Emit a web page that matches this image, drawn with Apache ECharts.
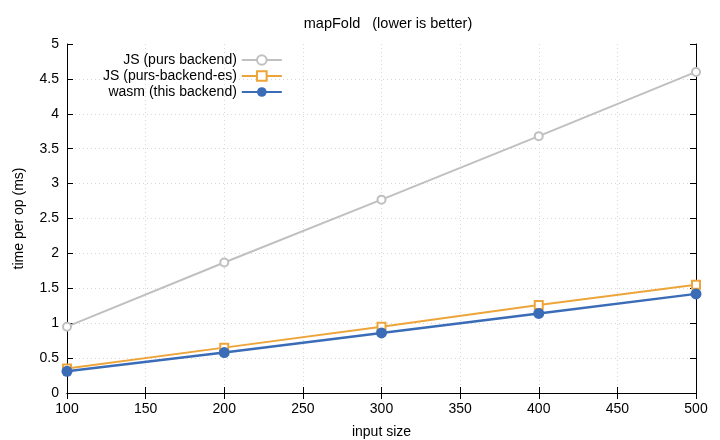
<!DOCTYPE html>
<html>
<head>
<meta charset="utf-8">
<script src="https://cdn.jsdelivr.net/npm/echarts@6/dist/echarts.min.js"></script>
<style>
  html, body { margin: 0; padding: 0; background: #fff; }
  #chart { width: 720px; height: 440px; }
</style>
</head>
<body>
<div id="chart"></div>
<script>
// input sizes and timings (ms per op)
var inputSizes = [100, 200, 300, 400, 500];
var jsPurs = [0.95, 1.87, 2.77, 3.68, 4.6];
var jsPursEs = [0.35, 0.65, 0.95, 1.26, 1.55];
var wasm = [0.31, 0.58, 0.86, 1.14, 1.42];

function pairs(xs, ys) {
  return xs.map(function (x, i) { return [x, ys[i]]; });
}

var font = "Liberation Sans, Arial, sans-serif";
var myChart = echarts.init(document.getElementById("chart"));

var gridLine = {
  show: true,
  showMinLine: false,
  showMaxLine: false,
  lineStyle: { color: "#d8d8d8", type: [1, 3], width: 1 },
};
var tick = { show: true, inside: true, length: 6, lineStyle: { color: "#000" } };
var blackLine = { show: true, lineStyle: { color: "#000", width: 1 } };

var option = {
  animation: false,
  textStyle: { fontFamily: font, color: "#000" },
  title: {
    text: "mapFold   (lower is better)",
    left: 383,
    top: 11,
    textAlign: "center",
    textStyle: { fontFamily: font, fontSize: 14.5, fontWeight: "normal", color: "#000" },
  },
  legend: {
    orient: "vertical",
    left: 98,
    top: 48,
    align: "right",
    itemGap: 2,
    itemWidth: 40,
    itemHeight: 12,
    textStyle: { fontFamily: font, fontSize: 14, color: "#000" },
    data: ["JS (purs backend)", "JS (purs-backend-es)", "wasm (this backend)"],
  },
  grid: {
    left: 67,
    right: 24,
    top: 44,
    bottom: 47,
    outerBoundsMode: "none",
  },
  xAxis: [
    {
      type: "value",
      min: 100,
      max: 500,
      interval: 50,
      name: "input size",
      nameLocation: "middle",
      nameGap: 32,
      nameTextStyle: { fontFamily: font, fontSize: 14, color: "#000" },
      axisLine: blackLine,
      axisTick: tick,
      axisLabel: { fontFamily: font, fontSize: 14, color: "#000", margin: 9 },
      splitLine: gridLine,
    },
    {
      type: "value",
      position: "top",
      min: 100,
      max: 500,
      interval: 50,
      axisLine: blackLine,
      axisTick: tick,
      axisLabel: { show: false },
      splitLine: { show: false },
    },
  ],
  yAxis: [
    {
      type: "value",
      min: 0,
      max: 5,
      interval: 0.5,
      name: "time per op (ms)",
      nameLocation: "middle",
      nameGap: 41,
      nameRotate: 90,
      nameTextStyle: { fontFamily: font, fontSize: 14, color: "#000" },
      axisLine: blackLine,
      axisTick: tick,
      axisLabel: { fontFamily: font, fontSize: 14, color: "#000", margin: 8 },
      splitLine: gridLine,
    },
    {
      type: "value",
      position: "right",
      min: 0,
      max: 5,
      interval: 0.5,
      axisLine: blackLine,
      axisTick: tick,
      axisLabel: { show: false },
      splitLine: { show: false },
    },
  ],
  series: [
    {
      name: "JS (purs backend)",
      type: "line",
      data: pairs(inputSizes, jsPurs),
      symbol: "emptyCircle",
      symbolSize: 8,
      color: "#c0c0c0",
      lineStyle: { width: 2 },
      itemStyle: { borderWidth: 1.5 },
    },
    {
      name: "JS (purs-backend-es)",
      type: "line",
      data: pairs(inputSizes, jsPursEs),
      symbol: "emptyRect",
      symbolSize: 8,
      color: "#eda53a",
      lineStyle: { width: 2 },
      itemStyle: { borderWidth: 1.5 },
    },
    {
      name: "wasm (this backend)",
      type: "line",
      data: pairs(inputSizes, wasm),
      symbol: "circle",
      symbolSize: 11,
      color: "#3a6cb8",
      lineStyle: { width: 2.5 },
    },
  ],
};
myChart.setOption(option);
</script>
</body>
</html>
